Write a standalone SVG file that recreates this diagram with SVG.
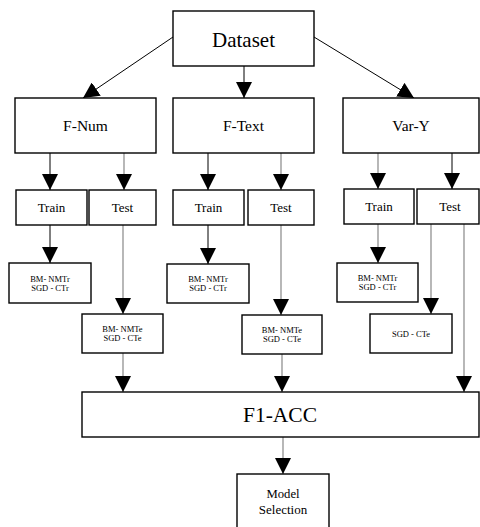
<svg xmlns="http://www.w3.org/2000/svg" width="480" height="527" viewBox="0 0 480 527">
<style>
rect{fill:#fff;stroke:#000;stroke-width:1.4}
text{font-family:'Liberation Serif','DejaVu Serif',serif;fill:#000;text-anchor:middle}
.k{stroke:#000;stroke-width:1;fill:none}
.g{stroke:#888;stroke-width:1.2;fill:none}
.big{font-size:21px}
.mid{font-size:15.5px}
.sm{font-size:13px}
.xs{font-size:8.5px}
</style>
<defs>
<marker id="ah" viewBox="0 0 16 16" refX="16" refY="8" markerWidth="16" markerHeight="16" markerUnits="userSpaceOnUse" orient="auto">
<path d="M0,0 L16,8 L0,16 z" fill="#000"/>
</marker>
</defs>
<g id="connectors">
<line class="k" x1="173" y1="37" x2="83" y2="98" marker-end="url(#ah)"/>
<line class="k" x1="244" y1="66" x2="244" y2="98" marker-end="url(#ah)"/>
<line class="k" x1="314" y1="37" x2="414" y2="98" marker-end="url(#ah)"/>
<line class="k" x1="50" y1="153" x2="50" y2="190" marker-end="url(#ah)"/>
<line class="g" x1="124" y1="153" x2="124" y2="190" marker-end="url(#ah)"/>
<line class="k" x1="208" y1="153" x2="208" y2="190" marker-end="url(#ah)"/>
<line class="g" x1="281" y1="153" x2="281" y2="190" marker-end="url(#ah)"/>
<line class="g" x1="378" y1="153" x2="378" y2="189" marker-end="url(#ah)"/>
<line class="k" x1="452" y1="153" x2="452" y2="189" marker-end="url(#ah)"/>
<line class="k" x1="50" y1="225" x2="50" y2="263" marker-end="url(#ah)"/>
<line class="g" x1="123" y1="225" x2="123" y2="314" marker-end="url(#ah)"/>
<line class="k" x1="208" y1="225" x2="208" y2="264" marker-end="url(#ah)"/>
<line class="g" x1="281" y1="225" x2="281" y2="315" marker-end="url(#ah)"/>
<line class="g" x1="378" y1="224" x2="378" y2="263" marker-end="url(#ah)"/>
<line class="g" x1="431" y1="224" x2="431" y2="314" marker-end="url(#ah)"/>
<line class="g" x1="464" y1="224" x2="464" y2="392" marker-end="url(#ah)"/>
<line class="g" x1="123" y1="353" x2="123" y2="392" marker-end="url(#ah)"/>
<line class="g" x1="282" y1="354" x2="282" y2="392" marker-end="url(#ah)"/>
<line class="g" x1="283" y1="437" x2="283" y2="474" marker-end="url(#ah)"/>
</g>
<g font-family="Liberation Serif, DejaVu Serif, serif">
<g id="dataset"><rect x="173" y="11" width="141" height="55"/><text class="big" x="243.5" y="47">Dataset</text></g>
<g id="fnum"><rect x="15" y="98" width="141" height="55"/><text class="mid" x="85.5" y="131">F-Num</text></g>
<g id="ftext"><rect x="173" y="98" width="141" height="55"/><text class="mid" x="243.5" y="131">F-Text</text></g>
<g id="vary"><rect x="343" y="98" width="136" height="55"/><text class="mid" x="411" y="131">Var-Y</text></g>
<g id="fnum-train"><rect x="16" y="190" width="71" height="35"/><text class="sm" x="51.5" y="212">Train</text></g>
<g id="fnum-test"><rect x="89" y="190" width="67" height="35"/><text class="sm" x="122.5" y="212">Test</text></g>
<g id="ftext-train"><rect x="173" y="190" width="71" height="35"/><text class="sm" x="208.5" y="212">Train</text></g>
<g id="ftext-test"><rect x="248" y="190" width="66" height="35"/><text class="sm" x="281" y="212">Test</text></g>
<g id="vary-train"><rect x="344" y="189" width="70" height="35"/><text class="sm" x="379" y="211">Train</text></g>
<g id="vary-test"><rect x="417" y="189" width="62" height="35"/><text class="sm" x="450" y="211">Test</text></g>
<g id="fnum-tr"><rect x="9" y="263" width="82" height="40"/><text class="xs" x="50" y="282">BM- NMTr</text><text class="xs" x="50" y="291">SGD - CTr</text></g>
<g id="ftext-tr"><rect x="167" y="264" width="82" height="39"/><text class="xs" x="208" y="282">BM- NMTr</text><text class="xs" x="208" y="291">SGD - CTr</text></g>
<g id="vary-tr"><rect x="337" y="263" width="81" height="39"/><text class="xs" x="377.5" y="281">BM- NMTr</text><text class="xs" x="377.5" y="290">SGD - CTr</text></g>
<g id="fnum-te"><rect x="82" y="314" width="81" height="39"/><text class="xs" x="122.5" y="332">BM- NMTe</text><text class="xs" x="122.5" y="341">SGD - CTe</text></g>
<g id="ftext-te"><rect x="242" y="315" width="80" height="39"/><text class="xs" x="282" y="333">BM- NMTe</text><text class="xs" x="282" y="342">SGD - CTe</text></g>
<g id="vary-te"><rect x="370" y="314" width="82" height="39"/><text class="xs" x="411" y="337">SGD - CTe</text></g>
<g id="f1acc"><rect x="82" y="392" width="397" height="45"/><text class="big" x="280" y="422" style="font-size:21.5px">F1-ACC</text></g>
<g id="model"><rect x="237" y="474" width="92" height="60"/><text class="sm" x="283" y="498" style="font-size:12.7px">Model</text><text class="sm" x="283" y="514">Selection</text></g>
</g>
</svg>
